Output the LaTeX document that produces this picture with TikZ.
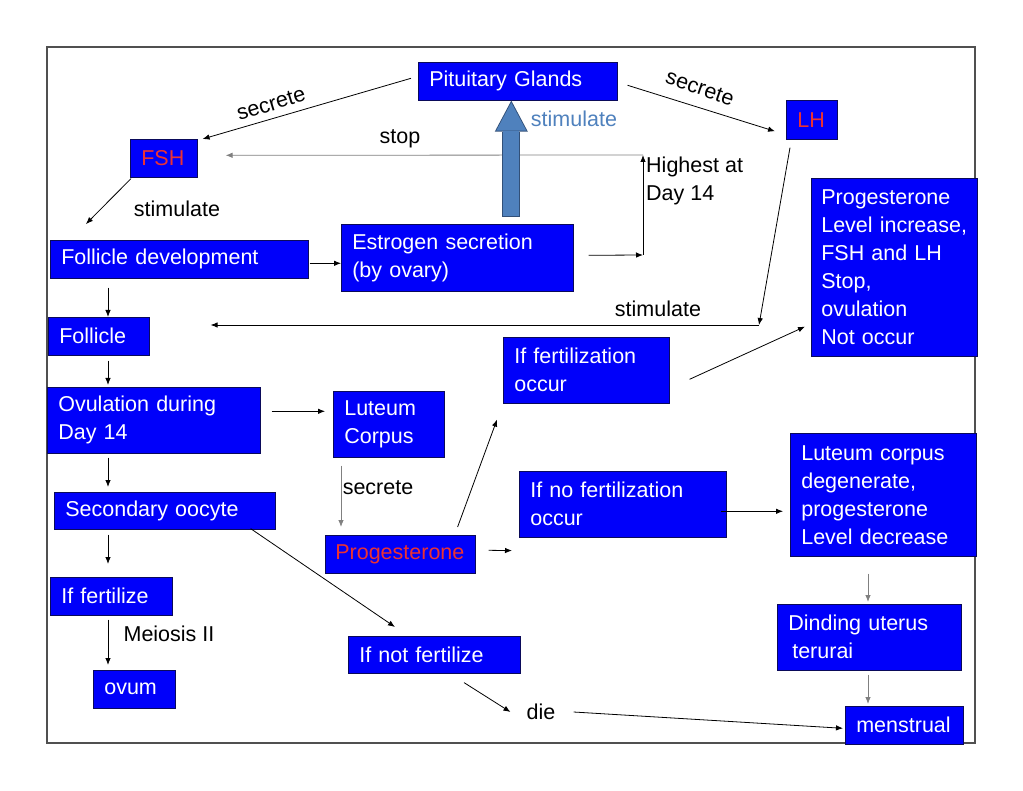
\documentclass[tikz,border=0pt]{standalone}
\usepackage{fontspec}
\setmainfont{Liberation Sans}
\usetikzlibrary{arrows.meta}
\definecolor{boxblue}{RGB}{0,0,250}
\definecolor{boxedge}{RGB}{10,10,90}
\definecolor{hormred}{RGB}{235,50,50}
\definecolor{steel}{RGB}{79,129,189}
\definecolor{steeldark}{RGB}{50,80,120}
\definecolor{framegray}{RGB}{80,80,80}

\begin{document}
\begin{tikzpicture}[x=1pt,y=-1pt,
    font=\fontsize{21.5}{28}\selectfont,
    >={Latex[length=7pt,width=5.5pt]},
    bluebox/.style={fill=boxblue, draw=boxedge, line width=0.6pt, text=white,
      inner xsep=11pt, inner ysep=0pt, align=left, anchor=north west},
    lbl/.style={inner sep=2pt},
    link/.style={->, line width=0.8pt},
    greylink/.style={->, line width=0.8pt, gray}]
\useasboundingbox (0,0) rectangle (1023,791);
\draw[framegray, line width=1.5pt] (47,47) rectangle (975,743);

% boxes
\node[bluebox, text width=177pt, minimum height=38pt] (pit) at (418,62) {Pituitary Glands};
\node[bluebox, text width=45pt, minimum height=38pt, text=hormred] (fsh) at (130,139) {FSH};
\node[bluebox, text width=29pt, minimum height=39pt, text=hormred] (lh) at (786,100) {LH};
\node[bluebox, text width=236pt, minimum height=38pt] (fdev) at (50,240) {Follicle development};
\node[bluebox, text width=210pt, minimum height=67pt] (estr) at (341,224) {Estrogen secretion\\(by ovary)};
\node[bluebox, text width=79pt, minimum height=38pt] (foll) at (48,317) {Follicle};
\node[bluebox, inner xsep=10pt, text width=146pt, minimum height=178pt] (prolvl) at (811,178)
  {Progesterone\\Level increase,\\FSH and LH\\Stop,\\ovulation\\Not occur};
\node[bluebox, text width=144pt, minimum height=66pt] (iffo) at (503,337) {If fertilization\\occur};
\node[bluebox, text width=191pt, minimum height=66pt] (ovul) at (47,387) {Ovulation during\\Day 14};
\node[bluebox, text width=89pt, minimum height=66pt] (lut) at (333,391) {Luteum\\Corpus};
\node[bluebox, text width=199pt, minimum height=37pt] (sec) at (54,492) {Secondary oocyte};
\node[bluebox, inner xsep=10pt, text width=130pt, minimum height=38pt, text=hormred] (prog) at (325,535) {Progesterone};
\node[bluebox, text width=185pt, minimum height=66pt] (ifnfo) at (519,471) {If no fertilization\\occur};
\node[bluebox, text width=164pt, minimum height=123pt] (lutdeg) at (790,433)
  {Luteum corpus\\degenerate,\\progesterone\\Level decrease};
\node[bluebox, text width=162pt, minimum height=66pt] (dind) at (777,604) {Dinding uterus\\\hspace*{4pt}terurai};
\node[bluebox, text width=96pt, minimum height=38pt] (menst) at (845,706) {menstrual};
\node[bluebox, text width=100pt, minimum height=38pt] (iff) at (50,577) {If fertilize};
\node[bluebox, text width=60pt, minimum height=38pt] (ovum) at (93,670) {ovum};
\node[bluebox, text width=150pt, minimum height=37pt] (ifnf) at (348,636) {If not fertilize};

% labels
\node[lbl, rotate=17] (secl) at (271,104) {secrete};
\node[lbl, rotate=-19] (secr) at (700,88) {secrete};
\node[lbl, text=steel] (stimp) at (574,119) {stimulate};
\node[lbl] (stoplbl) at (400,139) {stop};
\node[inner sep=0pt, anchor=north west, align=left] (high) at (646,157) {Highest at\\Day 14};
\node[lbl] (stimf) at (177,209) {stimulate};
\node[lbl] (stiml) at (658,309) {stimulate};
\node[lbl] (secp) at (378,488) {secrete};
\node[lbl] (meiosis) at (169,634) {Meiosis II};
\node[lbl] (die) at (541,712) {die};

\coordinate (col) at (108,0);
\coordinate (peaklow) at (643,255);
\coordinate (peaktop) at (643,155);
\coordinate (lhturn) at (759,325);

% connectors
\draw[link] ([xshift=-7pt,yshift=3pt]pit.west) -- ([xshift=5pt]fsh.north east);
\draw[link] ([xshift=10pt,yshift=-4pt]pit.east) -- ([xshift=-11pt,yshift=-11.5pt]lh.west);
\draw[link] ([xshift=1pt,yshift=-1pt]fsh.south west) -- ([xshift=36pt,yshift=16pt]fdev.north west);
\draw[link] ([xshift=1pt,yshift=-4pt]fdev.east) -- ([yshift=-4pt]fdev.east -| estr.west);
\draw[link] ([xshift=15pt,yshift=2.5pt]estr.east) -- (peaklow);
\draw[link] (peaklow) -- (peaktop);
\draw[greylink] (peaktop) -- ([xshift=28pt,yshift=3pt]fsh.east);

\coordinate (sb) at ([xshift=54pt,yshift=7pt]estr.north);
\draw[steeldark, line width=18pt, -{Triangle[width=33pt,length=31pt,line width=0pt]}] (sb) -- (sb |- pit.south);
\draw[steel, line width=16pt, -{Triangle[width=30pt,length=28pt,line width=0pt]},
  shorten >=2pt, shorten <=1pt] (sb) -- (sb |- pit.south);

\draw[link] ([xshift=4pt,yshift=-8pt]lh.south west) -- (lhturn);
\draw[link] (lhturn) -- ([xshift=61pt]foll.east |- lhturn);
\draw[link] ([xshift=20pt,yshift=-9pt]iffo.east) -- ([xshift=-6pt,yshift=30pt]prolvl.south west);

\draw[link, shorten <=9pt] (col |- fdev.south) -- (col |- foll.north);
\draw[link, shorten <=5pt, shorten >=2pt] (col |- foll.south) -- (col |- ovul.north);
\draw[link, shorten <=4pt, shorten >=5pt] (col |- ovul.south) -- (col |- sec.north);
\draw[link, shorten <=5pt, shorten >=13pt] (col |- sec.south) -- (col |- iff.north);
\draw[link, shorten <=4pt, shorten >=5pt] (col |- iff.south) -- (col |- ovum.north);

\draw[link] ([xshift=11pt,yshift=9pt]ovul.east) -- ([xshift=-8pt,yshift=13pt]lut.west);
\draw[greylink] ([xshift=8pt,yshift=-8pt]lut.south west) -- ([xshift=16pt,yshift=8pt]prog.north west);
\draw[link] ([xshift=-18pt,yshift=8pt]prog.north east) -- ([xshift=-6pt,yshift=-16pt]iffo.south west);
\draw[link] ([xshift=13pt,yshift=4pt]prog.east) -- ([xshift=-7pt,yshift=-13pt]ifnfo.south west);
\draw[link] ([xshift=-25pt,yshift=1pt]sec.south east) -- ([xshift=47pt,yshift=9pt]ifnf.north west);
\draw[link] ([xshift=116pt,yshift=-9pt]ifnf.south west) -- ([xshift=-14pt]die.west);
\draw[link] ([xshift=16pt]die.east) -- ([xshift=-2pt,yshift=-3pt]menst.west);
\draw[link, shorten >=1pt] ([xshift=-6pt,yshift=-7pt]ifnfo.east) -- ([xshift=-6pt,yshift=-7pt]ifnfo.east -| lutdeg.west);
\draw[greylink, shorten >=2pt] ([xshift=78pt,yshift=-17pt]lutdeg.south west) -- ([xshift=78pt]lutdeg.south west |- dind.north);
\draw[greylink, shorten >=2pt] ([xshift=91pt,yshift=-4pt]dind.south west) -- ([xshift=91pt]dind.south west |- menst.north);
\end{tikzpicture}
\end{document}
